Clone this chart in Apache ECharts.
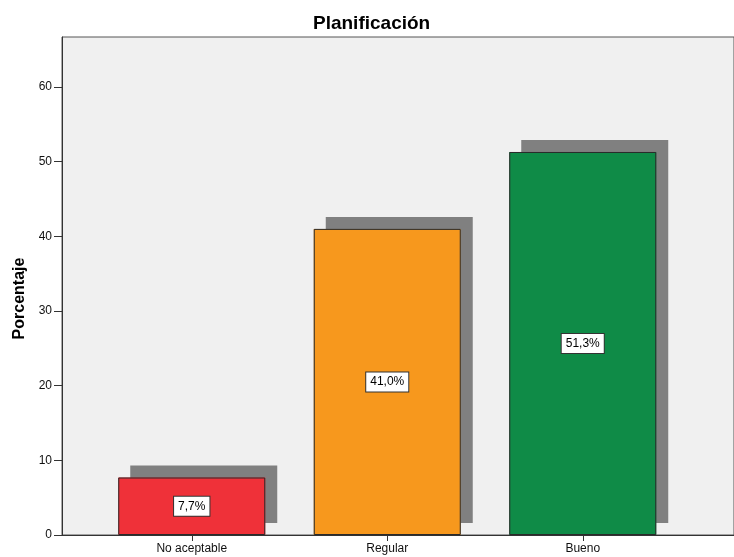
<!DOCTYPE html>
<html>
<head>
<meta charset="utf-8">
<script src="https://cdn.jsdelivr.net/npm/echarts@6/dist/echarts.min.js"></script>
<style>
  html, body { margin: 0; padding: 0; background: #ffffff; }
  #chart { width: 734px; height: 557px; }
</style>
</head>
<body>
<div id="chart"></div>
<script>
// Planificación: percentage of responses per rating
const categories = ['No aceptable', 'Regular', 'Bueno'];
const percentages = [7.7, 41.0, 51.3];
const barColors = ['#EF3139', '#F7981D', '#0F8B47'];
const yTicks = [0, 10, 20, 30, 40, 50, 60];

const FONT = '"Liberation Sans", Arial, sans-serif';
const fmtPct = v => v.toFixed(1).replace('.', ',') + '%';

const chart = echarts.init(document.getElementById('chart'), null, { renderer: 'canvas' });

// the frame extends a little above the last tick
const frameMax = 66.7;
const tickMax = yTicks[yTicks.length - 1];
const plotTop = 37, plotBottom = 22, plotH = 557 - plotTop - plotBottom;
const tickTop = plotTop + plotH * (frameMax - tickMax) / frameMax;

chart.setOption({
  animation: false,
  title: {
    text: 'Planificación',
    left: 308,
    top: 9,
    textStyle: { fontFamily: FONT, fontSize: 19, fontWeight: 'bold', color: '#000' }
  },
  grid: [
    // outer frame
    { left: 62, right: -2, top: plotTop, bottom: plotBottom, show: true, backgroundColor: '#F0F0F0', borderColor: '#555', borderWidth: 1 },
    // category band and value scale used by the bars
    { left: 94, width: 586.5, top: tickTop, bottom: plotBottom }
  ],
  xAxis: [
    {
      gridIndex: 0, type: 'value', min: 0, max: 1,
      axisLine: { show: true, lineStyle: { color: '#333', width: 1 } },
      axisTick: { show: false }, axisLabel: { show: false }, splitLine: { show: false }
    },
    {
      gridIndex: 1, type: 'category', data: categories, boundaryGap: true,
      axisLine: { show: false },
      axisTick: { show: true, alignWithLabel: true, length: 6, lineStyle: { color: '#333' } },
      axisLabel: { fontFamily: FONT, fontSize: 12, color: '#111', margin: 8 },
      splitLine: { show: false }
    }
  ],
  yAxis: [
    {
      gridIndex: 0, type: 'value', min: 0, max: frameMax,
      axisLine: { show: true, lineStyle: { color: '#333', width: 1 } },
      axisTick: { show: false }, axisLabel: { show: false }, splitLine: { show: false }
    },
    {
      gridIndex: 1, type: 'value', min: 0, max: tickMax, interval: 10, offset: 32,
      name: 'Porcentaje', nameLocation: 'middle', nameGap: 34, nameRotate: 90,
      nameTextStyle: { fontFamily: FONT, fontSize: 16, fontWeight: 'bold', color: '#000', padding: [0, 0, 0, 25] },
      axisLine: { show: false },
      axisTick: { show: true, length: 8, lineStyle: { color: '#333' } },
      axisLabel: { fontFamily: FONT, fontSize: 12, color: '#111', margin: 10 },
      splitLine: { show: false }
    }
  ],
  series: [
    {
      // filled bars casting the offset grey shadow
      type: 'bar',
      xAxisIndex: 1, yAxisIndex: 1,
      barWidth: 147,
      data: percentages.map((v, i) => ({ value: v, itemStyle: { color: barColors[i] } })),
      itemStyle: {
        borderWidth: 0,
        shadowColor: '#808080', shadowBlur: 0, shadowOffsetX: 12, shadowOffsetY: -12
      }
    },
    {
      // outlines and value labels drawn over the filled bars
      type: 'bar',
      xAxisIndex: 1, yAxisIndex: 1,
      barWidth: 147, barGap: '-100%',
      data: percentages,
      itemStyle: { color: 'rgba(0,0,0,0)', borderColor: '#2a2a2a', borderWidth: 1 },
      label: {
        show: true, position: 'inside',
        formatter: p => fmtPct(p.value),
        fontFamily: FONT, fontSize: 12, color: '#000',
        backgroundColor: '#fff', borderColor: '#333', borderWidth: 1,
        padding: [4, 4, 3, 4]
      }
    }
  ]
});
</script>
</body>
</html>
